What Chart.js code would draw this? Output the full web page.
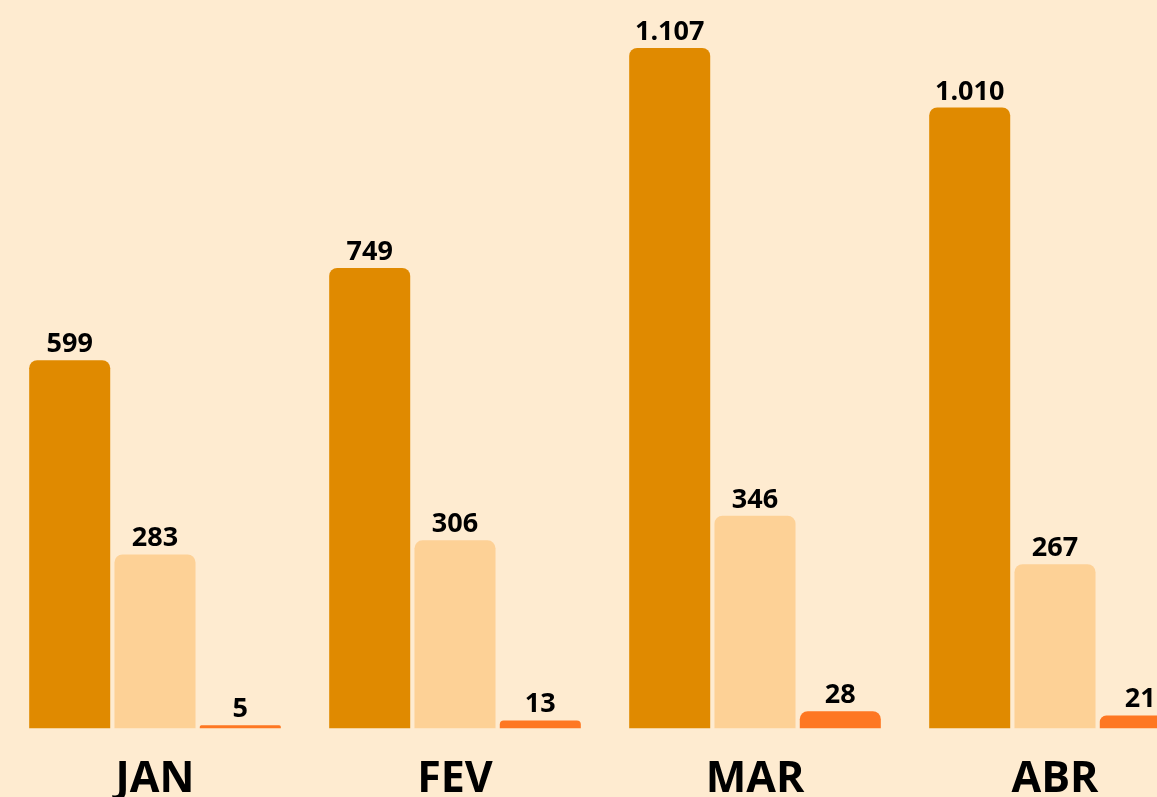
<!DOCTYPE html>
<html>
<head>
<meta charset="utf-8">
<script src="https://cdn.jsdelivr.net/npm/chart.js@4"></script>
<style>
    html, body { margin: 0; padding: 0; overflow: hidden; background: #FEEBD0; }
    #wrap { position: relative; width: 1210px; height: 830px; }
</style>
</head>
<body>
<div id="wrap"><canvas id="barChart"></canvas></div>
<script>
// Monthly values, three series per month
const months = ['JAN', 'FEV', 'MAR', 'ABR'];
const seriesA = [599, 749, 1107, 1010];
const seriesB = [283, 306, 346, 267];
const seriesC = [5, 13, 28, 21];

const fmt = new Intl.NumberFormat('pt-BR');

// draws the value above each bar
const valueLabels = {
    id: 'valueLabels',
    afterDatasetsDraw(chart) {
        const ctx = chart.ctx;
        ctx.save();
        ctx.fillStyle = '#000';
        ctx.font = 'bold 27px "Open Sans"';
        ctx.textAlign = 'center';
        ctx.textBaseline = 'alphabetic';
        chart.data.datasets.forEach((ds, i) => {
            chart.getDatasetMeta(i).data.forEach((bar, j) => {
                ctx.fillText(fmt.format(ds.data[j]), bar.x, bar.y - 8);
            });
        });
        ctx.restore();
    }
};

function dataset(data, color) {
    return {
        data,
        backgroundColor: color,
        borderRadius: { topLeft: 8, topRight: 8 },
        borderSkipped: 'bottom',
        categoryPercentage: 0.853,
        barPercentage: 0.95
    };
}

new Chart(document.getElementById('barChart'), {
    type: 'bar',
    data: {
        labels: months,
        datasets: [
            dataset(seriesA, '#E08A00'),
            dataset(seriesB, '#FDD196'),
            dataset(seriesC, '#FE7722')
        ]
    },
    options: {
        responsive: true,
        maintainAspectRatio: false,
        animation: false,
        layout: { padding: { left: 5, right: 5, top: 3, bottom: 6 } },
        plugins: { legend: { display: false }, tooltip: { enabled: false } },
        scales: {
            x: {
                grid: { display: false },
                border: { display: false },
                ticks: {
                    color: '#000',
                    padding: 18,
                    font: { family: 'Open Sans', size: 43, weight: 'bold' }
                }
            },
            y: { display: false, min: 0, max: 1180 }
        }
    },
    plugins: [valueLabels]
});
</script>
</body>
</html>
